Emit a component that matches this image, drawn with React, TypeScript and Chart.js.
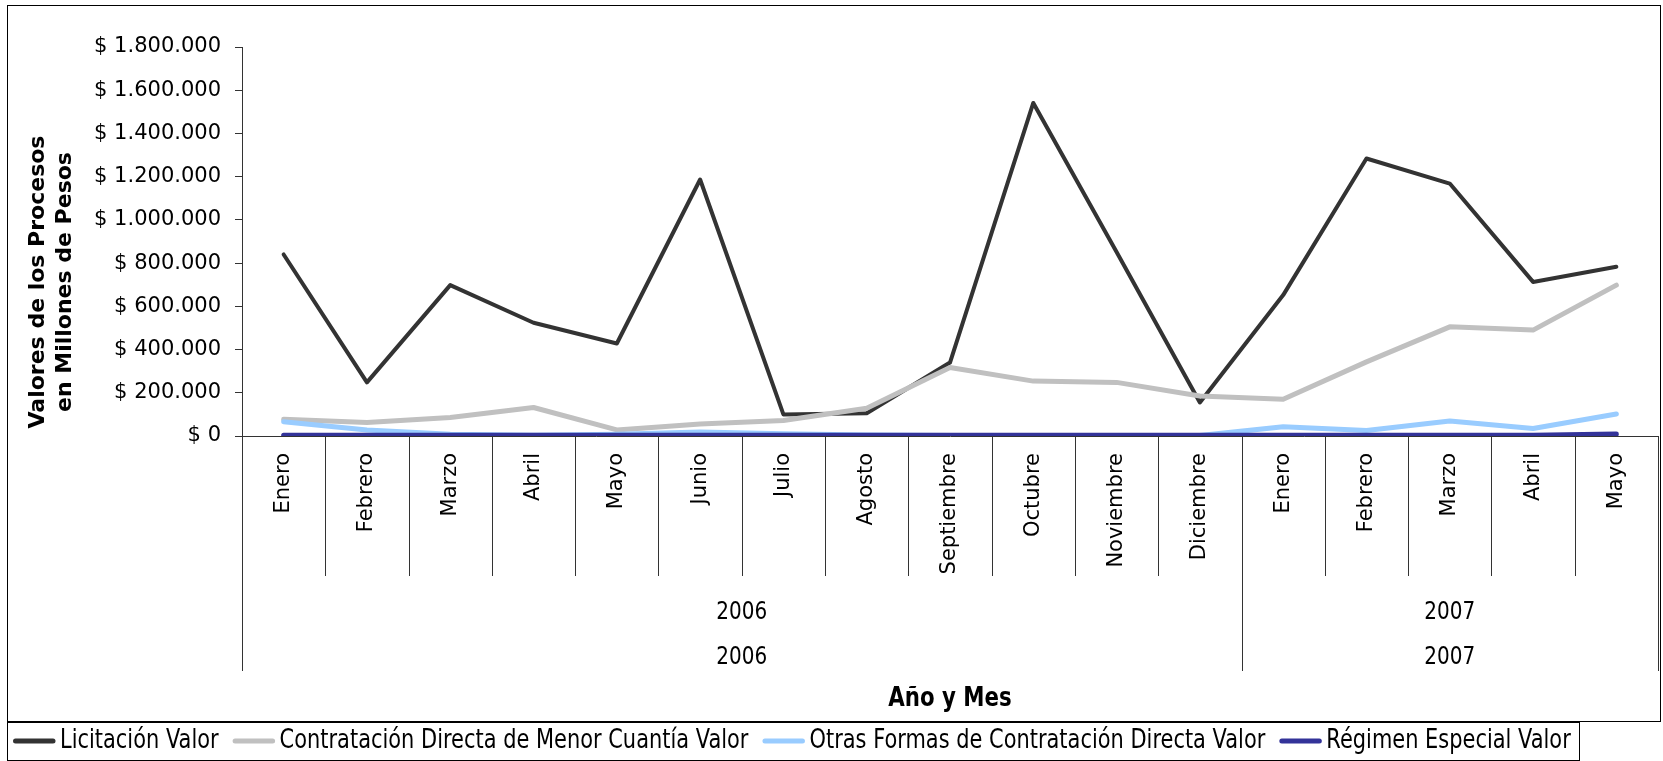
import React, { useEffect, useRef } from "react";
import { Chart, registerables } from "chart.js";

Chart.register(...registerables);

// ---------- data ----------
const months = [
  "Enero", "Febrero", "Marzo", "Abril", "Mayo", "Junio", "Julio", "Agosto",
  "Septiembre", "Octubre", "Noviembre", "Diciembre",
  "Enero", "Febrero", "Marzo", "Abril", "Mayo",
];
const yearOfMonth = [
  "2006", "2006", "2006", "2006", "2006", "2006", "2006", "2006", "2006", "2006", "2006", "2006",
  "2007", "2007", "2007", "2007", "2007",
];
const seriesNames = [
  "Licitación Valor",
  "Contratación Directa de Menor Cuantía Valor",
  "Otras Formas de Contratación Directa Valor",
  "Régimen Especial Valor",
];
const licitacion = [840000, 248000, 698000, 524000, 428000, 1187000, 100000, 105000, 340000, 1541000, 851000, 155000, 652000, 1284000, 1168000, 713000, 783000];
const contratacionMenor = [77000, 63000, 86000, 132000, 28000, 55000, 72000, 128000, 317000, 254000, 248000, 185000, 170000, 343000, 505000, 490000, 698000];
const otrasFormas = [66000, 28000, 8000, 3000, 8000, 18000, 10000, 5000, 2000, 2000, 2000, 2000, 43000, 25000, 69000, 35000, 102000];
const regimenEspecial = [3000, 3000, 3000, 3000, 3000, 3000, 3000, 3000, 3000, 3000, 3000, 3000, 3000, 3000, 4000, 4000, 9000];
const Y_MIN = 0;
const Y_MAX = 1800000;
const Y_STEP = 200000;
const yTitleLines = ["Valores de los Procesos", "en Millones de Pesos"];
const xTitle = "Año y Mes";

// ---------- styles ----------
const COLORS = ["#333333", "#C0C0C0", "#99CCFF", "#333399"];
const WIDTHS = [4, 5, 5, 5];
const MAIN_FONT = "'DejaVu Sans', Verdana, sans-serif";
const AXIS_COLOR = "#333333";
const PLOT_LEFT = 242;
const PLOT_BOTTOM = 436;
const LEGEND_TOP = 722;

const fmt = (v: number) => "$ " + Math.round(v).toString().replace(/\B(?=(\d{3})+(?!\d))/g, ".");

// draws horizontally condensed text (emulates a narrow font); returns drawn width
function condensedText(ctx: CanvasRenderingContext2D, text: string, x: number, y: number, size: number, bold: boolean, align: "left" | "center", sx: number) {
  ctx.save();
  ctx.font = `${bold ? "bold " : ""}${size}px ${MAIN_FONT}`;
  ctx.textBaseline = "middle";
  ctx.textAlign = "left";
  const w = ctx.measureText(text).width * sx;
  const left = align === "center" ? x - w / 2 : x;
  ctx.translate(left, y);
  ctx.scale(sx, 1);
  ctx.fillStyle = "#000";
  ctx.fillText(text, 0, 0);
  ctx.restore();
  return w;
}

const decorPlugin = {
  id: "decor",
  afterDraw(chart: any) {
    const { ctx, chartArea, scales } = chart;
    const x = scales.x;
    const base = chartArea.bottom;
    const n = months.length;
    ctx.save();
    ctx.strokeStyle = AXIS_COLOR;
    ctx.lineWidth = 1;
    // category dividers below the axis
    for (let i = 0; i <= n; i++) {
      const px = Math.round(x.getPixelForValue(i - 0.5)) + 0.5;
      const yearEdge = i === 0 || i === n || yearOfMonth[i] !== yearOfMonth[i - 1];
      const len = yearEdge ? 235 : 140;
      ctx.beginPath();
      ctx.moveTo(px, base);
      ctx.lineTo(px, base + len);
      ctx.stroke();
    }
    // year group labels (two rows)
    let start = 0;
    for (let i = 1; i <= n; i++) {
      if (i === n || yearOfMonth[i] !== yearOfMonth[start]) {
        const cx = (x.getPixelForValue(start - 0.5) + x.getPixelForValue(i - 0.5)) / 2;
        condensedText(ctx, yearOfMonth[start], cx, base + 176, 25, false, "center", 0.8);
        condensedText(ctx, yearOfMonth[start], cx, base + 221, 25, false, "center", 0.8);
        start = i;
      }
    }
    // x axis title
    condensedText(ctx, xTitle, (x.left + x.right) / 2, 699, 26, true, "center", 0.82);
    // y axis title (two lines, rotated)
    ctx.fillStyle = "#000";
    ctx.font = `bold 22px ${MAIN_FONT}`;
    ctx.textAlign = "center";
    ctx.textBaseline = "middle";
    yTitleLines.forEach((line, k) => {
      ctx.save();
      ctx.translate(38 + k * 27, 282);
      ctx.rotate(-Math.PI / 2);
      ctx.fillText(line, 0, 0);
      ctx.restore();
    });
    // outer frame
    ctx.strokeStyle = "#000";
    ctx.lineWidth = 1;
    ctx.strokeRect(7.5, 5.5, 1653, LEGEND_TOP - 6);
    // legend (line sample + condensed label per dataset)
    const ly = LEGEND_TOP + 19;
    let lx = 13;
    chart.data.datasets.forEach((ds: any) => {
      ctx.save();
      ctx.strokeStyle = ds.borderColor;
      ctx.lineWidth = 5;
      ctx.lineCap = "round";
      ctx.beginPath();
      ctx.moveTo(lx + 2.5, ly);
      ctx.lineTo(lx + 40, ly);
      ctx.stroke();
      ctx.restore();
      const w = condensedText(ctx, ds.label, lx + 47, ly, 26, false, "left", 0.805);
      lx = lx + 47 + w + 14;
    });
    ctx.strokeStyle = "#000";
    ctx.lineWidth = 1;
    ctx.strokeRect(7.5, LEGEND_TOP + 0.5, Math.round(lx - 14 + 8) - 7, 38);
    ctx.restore();
  },
};

export default function App() {
  const ref = useRef<HTMLCanvasElement | null>(null);
  useEffect(() => {
    document.body.style.margin = "0";
    const canvas = ref.current;
    if (!canvas) return;
    const series = [licitacion, contratacionMenor, otrasFormas, regimenEspecial];
    const chart = new Chart(canvas, {
      type: "line",
      data: {
        labels: months,
        datasets: series.map((d, i) => ({
          label: seriesNames[i],
          data: d,
          borderColor: COLORS[i],
          backgroundColor: COLORS[i],
          borderWidth: WIDTHS[i],
          pointRadius: 0,
          pointHoverRadius: 0,
          tension: 0,
          fill: false,
          borderJoinStyle: "round" as const,
          borderCapStyle: "round" as const,
          order: series.length - 1 - i,
        })),
      },
      options: {
        responsive: false,
        animation: false,
        events: [],
        layout: { padding: { top: 47, left: 0, right: 5, bottom: 761 - LEGEND_TOP } },
        scales: {
          x: {
            type: "category",
            offset: true,
            grid: { display: false, drawTicks: false, tickLength: 0 },
            border: { display: true, color: AXIS_COLOR, width: 1 },
            ticks: {
              autoSkip: false,
              minRotation: 90,
              maxRotation: 90,
              padding: 17,
              color: "#000",
              font: { family: MAIN_FONT, size: 21 },
            },
            title: { display: false },
            afterFit: (scale: any) => {
              scale.height = LEGEND_TOP - PLOT_BOTTOM;
            },
          },
          y: {
            min: Y_MIN,
            max: Y_MAX,
            grid: { drawOnChartArea: false, drawTicks: true, tickLength: 7, color: AXIS_COLOR },
            border: { display: true, color: AXIS_COLOR, width: 1 },
            ticks: {
              stepSize: Y_STEP,
              padding: 14,
              color: "#000",
              font: { family: MAIN_FONT, size: 21 },
              callback: (v: any) => fmt(Number(v)),
            },
            afterFit: (scale: any) => {
              scale.width = PLOT_LEFT;
            },
          },
        },
        plugins: {
          tooltip: { enabled: false },
          title: { display: false },
          legend: { display: false },
        },
      },
      plugins: [decorPlugin],
    } as any);
    return () => chart.destroy();
  }, []);
  return (
    <div style={{ width: 1663, height: 761 }}>
      <canvas ref={ref} width={1663} height={761} style={{ display: "block" }} />
    </div>
  );
}
